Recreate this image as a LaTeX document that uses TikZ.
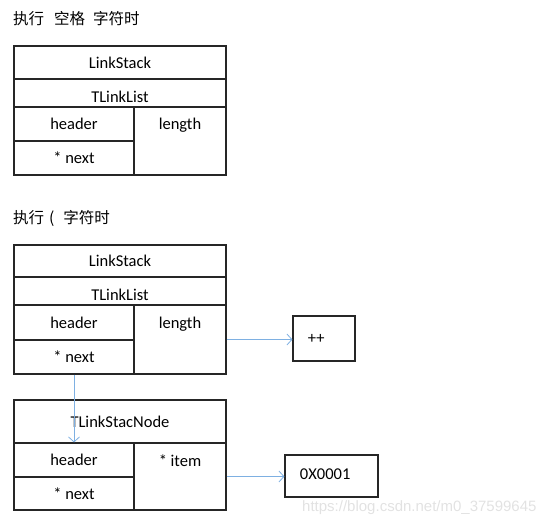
\documentclass[tikz,border=0pt]{standalone}
\usepackage{fontspec}
\setmainfont{Carlito}
\newfontfamily\cjk{Noto Sans CJK SC}
\newfontfamily\markfont{Liberation Sans}
\usetikzlibrary{arrows.meta}
\definecolor{linkblue}{HTML}{7EB0E2}
\definecolor{boxgray}{HTML}{262626}
\definecolor{markgray}{HTML}{E2E2E2}

\tikzset{
  cell/.style={draw=boxgray, line width=1.1pt, inner sep=0pt,
    font=\fontsize{16.5}{19}\selectfont},
  celltext/.style={font=\fontsize{16.5}{19}\selectfont},
  link/.style={draw=linkblue, line width=0.8pt,
    -{Straight Barb[length=5pt,width=11pt]}},
  title/.style={anchor=west, inner sep=0pt,
    font=\cjk\fontsize{15.5}{18}\selectfont},
}

\begin{document}
\begin{tikzpicture}[x=1pt, y=-1pt]
  \useasboundingbox (0,0) rectangle (560,525);

  % state after a blank
  \node[title] (title1) at (13,19) {执行\hspace{10pt}空格\hspace{8pt}字符时};
  \node[cell, minimum width=212pt, minimum height=33pt] (stack1) at (120,62.5) {LinkStack};
  \node[cell, minimum width=212pt, minimum height=28pt,
    label={[celltext, yshift=-4pt]center:TLinkList}] (list1) at (120,93) {};
  \node[cell, minimum width=120pt, minimum height=34pt] (header1) at (74,124) {header};
  \node[cell, minimum width=120pt, minimum height=34pt] (next1) at (74,158) {* next};
  \node[cell, minimum width=92pt, minimum height=68pt,
    label={[celltext, anchor=center, yshift=-19pt]north:length}] (len1) at (180,141) {};

  % state after a left paren
  \node[title] (title2) at (13,218) {执行\hspace{5pt}(\hspace{9pt}字符时};
  \node[cell, minimum width=212pt, minimum height=32pt] (stack2) at (120,261) {LinkStack};
  \node[cell, minimum width=212pt, minimum height=28pt,
    label={[celltext, yshift=-4pt]center:TLinkList}] (list2) at (120,291) {};
  \node[cell, minimum width=120pt, minimum height=35pt] (header2) at (74,322.5) {header};
  \node[cell, minimum width=120pt, minimum height=34pt] (next2) at (74,357) {* next};
  \node[cell, minimum width=92pt, minimum height=69pt,
    label={[celltext, anchor=center, yshift=-20pt]north:length}] (len2) at (180,339.5) {};
  \node[cell, minimum width=62pt, minimum height=45pt,
    label={[celltext, anchor=west, xshift=12pt]west:++}] (inc) at (324,338.5) {};

  % new stack node
  \node[cell, minimum width=212pt, minimum height=43pt] (snode) at (120,421.5) {TLinkStacNode};
  \node[cell, minimum width=120pt, minimum height=34pt] (header3) at (74,460) {header};
  \node[cell, minimum width=120pt, minimum height=33pt] (next3) at (74,493.5) {* next};
  \node[cell, minimum width=92pt, minimum height=67pt,
    label={[celltext, anchor=center, yshift=-18pt]north:* item}] (item3) at (180,476.5) {};
  \node[cell, minimum width=93pt, minimum height=42pt,
    label={[celltext, anchor=west, xshift=12pt, yshift=2pt]west:0X0001}] (val) at (331.5,476) {};

  % pointers
  \draw[link] (len2.east) -- (len2.east -| inc.west);
  \draw[link] (next2.south) -- (header3.north);
  \draw[link] (item3.east) -- (item3.east -| val.west);

  \node[anchor=west, inner sep=0pt, text=markgray, font=\markfont\fontsize{15}{18}\selectfont] (mark) at (302,508) {https://blog.csdn.net/m0\_37599645};
\end{tikzpicture}
\end{document}
